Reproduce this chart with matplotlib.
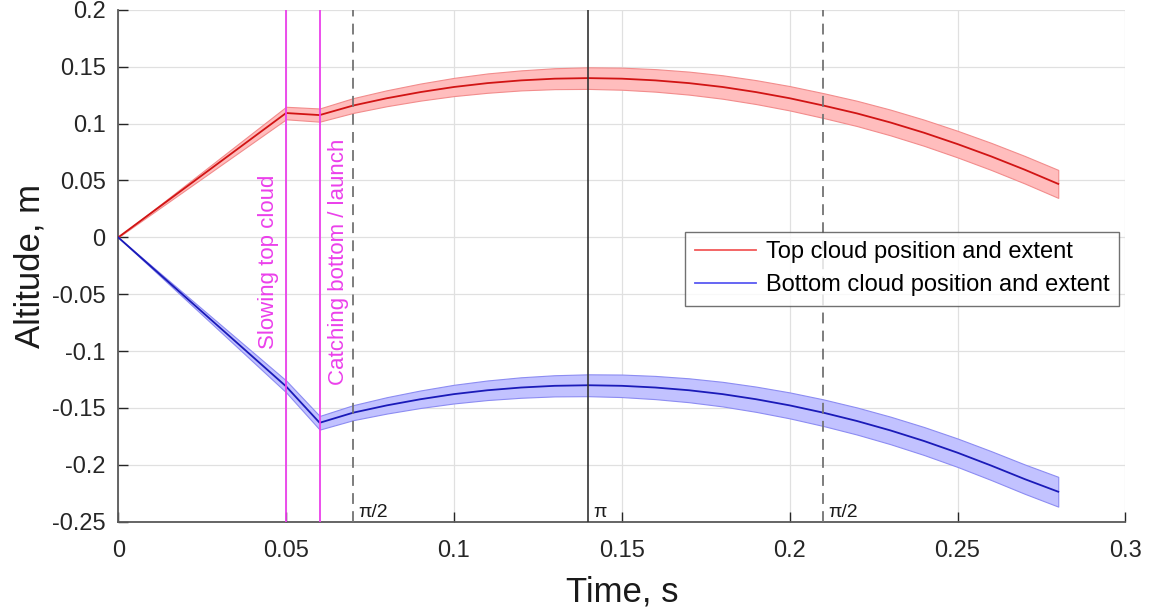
import matplotlib
matplotlib.use("Agg")
import matplotlib.pyplot as plt
import numpy as np

plt.rcParams['font.family'] = ['Liberation Sans', 'DejaVu Sans']

# Sample times (s)
time_s = [0.00, 0.05, 0.06, 0.07, 0.08, 0.09, 0.10, 0.11, 0.12, 0.13, 0.14,
          0.15, 0.16, 0.17, 0.18, 0.19, 0.20, 0.21, 0.22, 0.23, 0.24, 0.25,
          0.26, 0.27, 0.28]

# Cloud centre altitudes (m)
top_center = [0.0000, 0.1093, 0.1075, 0.1159, 0.1223, 0.1277, 0.1322, 0.1356,
              0.1380, 0.1395, 0.1400, 0.1395, 0.1380, 0.1356, 0.1322, 0.1277,
              0.1223, 0.1159, 0.1090, 0.1010, 0.0920, 0.0820, 0.0712, 0.0595,
              0.0470]
bottom_center = [0.0000, -0.1310, -0.1630, -0.1541, -0.1477, -0.1423, -0.1378,
                 -0.1344, -0.1320, -0.1305, -0.1300, -0.1305, -0.1320, -0.1344,
                 -0.1378, -0.1423, -0.1477, -0.1541, -0.1614, -0.1697, -0.1790,
                 -0.1893, -0.2006, -0.2125, -0.2236]

# Cloud half-extent (m)
top_extent = [0.000, 0.0055, 0.0058, 0.0065, 0.0070, 0.0075, 0.0080, 0.0085,
              0.0088, 0.0092, 0.0095, 0.0097, 0.0099, 0.0101, 0.0103, 0.0105,
              0.0107, 0.0109, 0.0111, 0.0113, 0.0115, 0.0117, 0.0119, 0.0121,
              0.0123]
bottom_extent = [0.000, 0.0052, 0.0060, 0.0066, 0.0072, 0.0077, 0.0082,
                 0.0086, 0.0090, 0.0093, 0.0096, 0.0099, 0.0102, 0.0105,
                 0.0108, 0.0111, 0.0114, 0.0117, 0.0119, 0.0121, 0.0123,
                 0.0125, 0.0127, 0.0129, 0.0131]

# Event markers
event_times = [0.05, 0.06]
event_labels = ["Slowing top cloud", "Catching bottom / launch"]
phase_times = [0.07, 0.14, 0.21]
phase_labels = ["\u03c0/2", "\u03c0", "\u03c0/2"]

xticks = [0, 0.05, 0.1, 0.15, 0.2, 0.25, 0.3]
yticks = [-0.25, -0.2, -0.15, -0.1, -0.05, 0, 0.05, 0.1, 0.15, 0.2]
xtick_labels = ["0", "0.05", "0.1", "0.15", "0.2", "0.25", "0.3"]
ytick_labels = ["-0.25", "-0.2", "-0.15", "-0.1", "-0.05", "0", "0.05",
                "0.1", "0.15", "0.2"]

t = np.array(time_s)
top_c, top_e = np.array(top_center), np.array(top_extent)
bot_c, bot_e = np.array(bottom_center), np.array(bottom_extent)

fig = plt.figure(figsize=(11.59, 6.16), dpi=100)
ax = fig.add_axes([0.102, 0.153, 0.869, 0.831])

ax.set_xlim(0, 0.3)
ax.set_ylim(-0.25, 0.2)

# Extent bands and centre lines
ax.fill_between(t, top_c - top_e, top_c + top_e, facecolor=(1.0, 0.74, 0.74),
                edgecolor=(0.95, 0.55, 0.55), linewidth=0.8, zorder=2)
ax.fill_between(t, bot_c - bot_e, bot_c + bot_e, facecolor=(0.76, 0.76, 1.0),
                edgecolor=(0.55, 0.55, 0.95), linewidth=0.8, zorder=2)
ax.plot(t, top_c, color=(0.82, 0.08, 0.08), lw=1.3, zorder=3)
ax.plot(t, bot_c, color=(0.1, 0.1, 0.72), lw=1.3, zorder=3)

# Event lines with rotated labels
magenta = (0.92, 0.25, 0.92)
ax.axvline(event_times[0], color=magenta, lw=1.3, zorder=4)
ax.axvline(event_times[1], color=magenta, lw=1.3, zorder=4)
ax.text(event_times[0] - 0.0022, -0.098, event_labels[0], rotation=90,
        ha='right', va='bottom', color=magenta, fontsize=16)
ax.text(event_times[1] + 0.0026, -0.1296, event_labels[1], rotation=90,
        ha='left', va='bottom', color=magenta, fontsize=16)

# Phase lines
ax.axvline(phase_times[0], color=(0.45, 0.45, 0.45), lw=1.3,
           linestyle=(0, (6, 4)), zorder=4)
ax.axvline(phase_times[1], color=(0.2, 0.2, 0.2), lw=1.2, zorder=4)
ax.axvline(phase_times[2], color=(0.45, 0.45, 0.45), lw=1.3,
           linestyle=(0, (6, 4)), zorder=4)
for xp, lab in zip(phase_times, phase_labels):
    ax.text(xp + 0.0015, -0.2415, lab, ha='left', va='center', fontsize=14,
            color=(0.1, 0.1, 0.1))

# Axes styling
ax.set_xticks(xticks)
ax.set_yticks(yticks)
ax.set_xticklabels(xtick_labels)
ax.set_yticklabels(ytick_labels)
ax.tick_params(direction='in', length=7, width=1.0, labelsize=17,
               colors=(0.15, 0.15, 0.15))
ax.tick_params(axis='x', pad=13)
ax.tick_params(axis='y', pad=9)
ax.grid(True, color=(0.88, 0.88, 0.88), lw=0.9, zorder=0)
ax.set_axisbelow(True)
for side in ('top', 'right'):
    ax.spines[side].set_visible(False)
for side in ('left', 'bottom'):
    ax.spines[side].set_color((0.35, 0.35, 0.35))
    ax.spines[side].set_linewidth(1.3)

ax.set_xlabel("Time, s", fontsize=25, color=(0.1, 0.1, 0.1), labelpad=10)
ax.set_ylabel("Altitude, m", fontsize=25, color=(0.1, 0.1, 0.1), labelpad=4)

leg = ax.legend(
    [plt.Line2D([], [], color=(0.95, 0.35, 0.35), lw=1.3),
     plt.Line2D([], [], color=(0.35, 0.35, 0.95), lw=1.3)],
    ["Top cloud position and extent", "Bottom cloud position and extent"],
    loc='upper left', bbox_to_anchor=(0.563, 0.566), borderaxespad=0,
    fontsize=17, frameon=True, fancybox=False, handlelength=2.6,
    handletextpad=0.4, borderpad=0.4, labelspacing=0.45)
leg.get_frame().set_edgecolor((0.3, 0.3, 0.3))
leg.get_frame().set_linewidth(1.0)
leg.set_zorder(6)

fig.savefig("out.png", dpi=100, facecolor='white')
